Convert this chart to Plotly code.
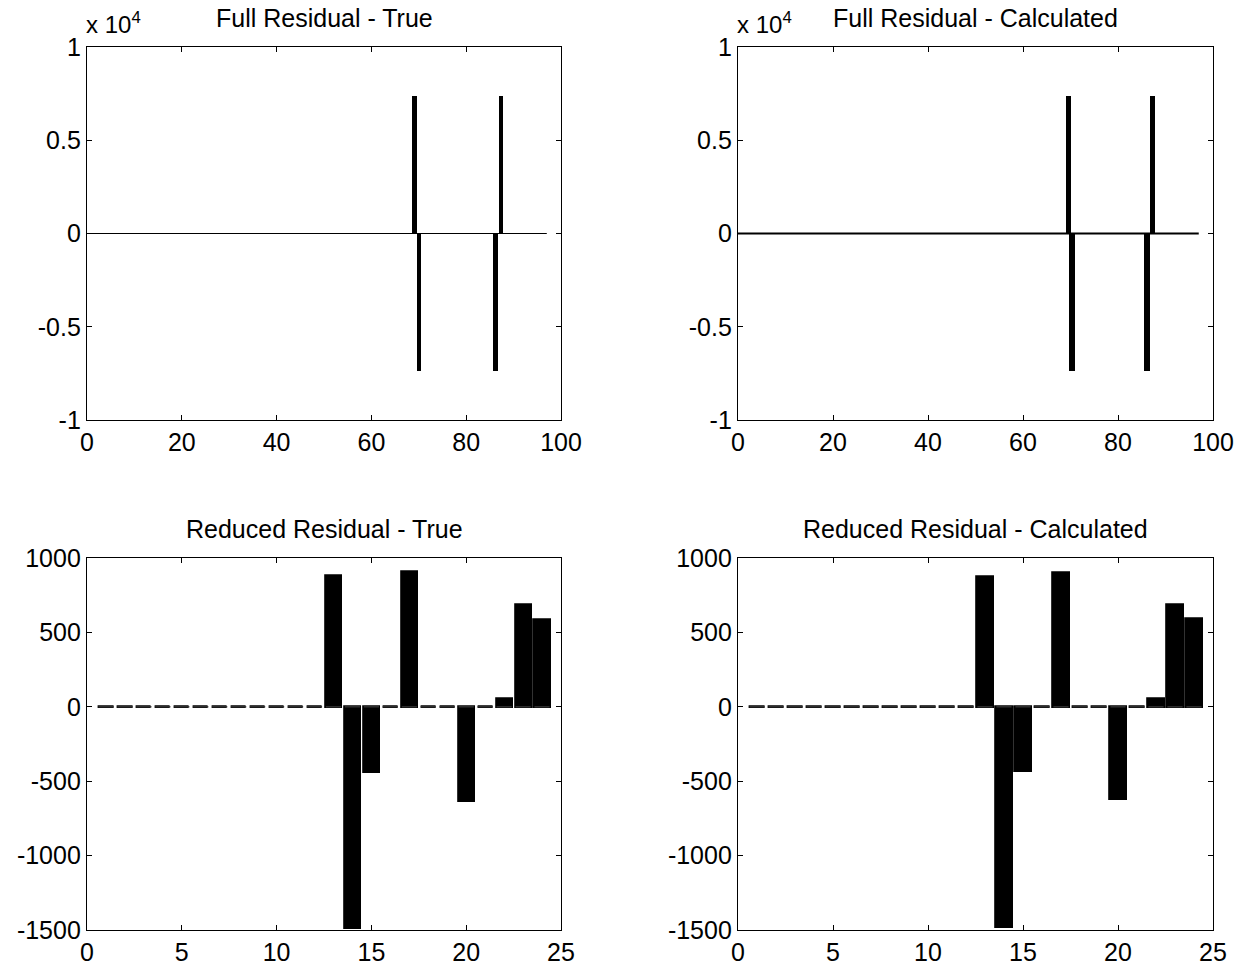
import plotly.graph_objects as go

# ---------------- data ----------------
# Full residual (top row): spike positions and heights
full_true_x = [69.1, 70.0, 86.2, 87.3]
full_true_y = [7350, -7350, -7350, 7350]
full_calc_x = [69.5, 70.3, 86.1, 87.3]
full_calc_y = [7350, -7350, -7350, 7350]
full_range = [0, 97]          # extent of the zero residual line
full_zero = [0, 0]

# Reduced residual (bottom row)
reduced_idx = list(range(1, 25))
reduced_true = [0, 0, 0, 0, 0, 0, 0, 0, 0, 0, 0, 0,
                876, -1485, -438, 0, 905, 0, 0, -632, 0, 54, 681, 585]
reduced_calc = [0, 0, 0, 0, 0, 0, 0, 0, 0, 0, 0, 0,
                872, -1480, -430, 0, 902, 0, 0, -620, 0, 52, 683, 588]

full_xticks = [0, 20, 40, 60, 80, 100]
full_yticks = [-10000, -5000, 0, 5000, 10000]
full_yticktext = ["-1", "-0.5", "0", "0.5", "1"]
red_xticks = [0, 5, 10, 15, 20, 25]
red_yticks = [-1500, -1000, -500, 0, 500, 1000]
red_yticktext = ["-1500", "-1000", "-500", "0", "500", "1000"]

titles = ["Full Residual - True", "Full Residual - Calculated",
          "Reduced Residual - True", "Reduced Residual - Calculated"]

W, H = 1242, 966
FONT = "Liberation Sans, Arial, Helvetica, sans-serif"
FS = 25
BAR_W = 0.8

def px_x(p):
    return p / W

def px_y(p):
    return 1 - p / H

dom_x = [[px_x(87), px_x(561)], [px_x(738), px_x(1213)]]
dom_y_top = [px_y(420), px_y(47)]
dom_y_bot = [px_y(930), px_y(558)]

fig = go.Figure()

# top-left
fig.add_trace(go.Scatter(x=full_range, y=full_zero, mode="lines",
                         line=dict(color="black", width=1.2),
                         xaxis="x", yaxis="y", showlegend=False))
fig.add_trace(go.Bar(x=full_true_x, y=full_true_y, width=0.9,
                     marker=dict(color="black", line=dict(width=0)),
                     xaxis="x", yaxis="y", showlegend=False))
# top-right
fig.add_trace(go.Scatter(x=full_range, y=full_zero, mode="lines",
                         line=dict(color="black", width=2.2),
                         xaxis="x2", yaxis="y2", showlegend=False))
fig.add_trace(go.Bar(x=full_calc_x, y=full_calc_y, width=1.1,
                     marker=dict(color="black", line=dict(width=0)),
                     xaxis="x2", yaxis="y2", showlegend=False))

# bottom: dashed baseline made of the bar bottom edges
def base_segments(idx):
    xs, ys = [], []
    for i in idx:
        xs += [i - BAR_W / 2, i + BAR_W / 2, None]
        ys += [0, 0, None]
    return xs, ys

for vals, xa, ya in [(reduced_true, "x3", "y3"), (reduced_calc, "x4", "y4")]:
    sx, sy = base_segments(reduced_idx)
    fig.add_trace(go.Scatter(x=sx, y=sy, mode="lines",
                             line=dict(color="#333333", width=1.4),
                             xaxis=xa, yaxis=ya, showlegend=False))
    fig.add_trace(go.Bar(x=reduced_idx, y=vals, width=BAR_W,
                         marker=dict(color="black", line=dict(color="black", width=2.8)),
                         xaxis=xa, yaxis=ya, showlegend=False))

axis_common = dict(showgrid=False, zeroline=False, showline=True, linecolor="black",
                   linewidth=1.3, mirror="ticks", ticks="inside", ticklen=5,
                   tickcolor="black", tickwidth=1.2,
                   tickfont=dict(family=FONT, size=FS, color="black"))

layout = dict(
    width=W, height=H, margin=dict(l=0, r=0, t=0, b=0),
    paper_bgcolor="white", plot_bgcolor="white", bargap=0, barmode="overlay",
    font=dict(family=FONT, size=FS, color="black"),
)
layout["xaxis"] = dict(axis_common, domain=dom_x[0], anchor="y", range=[0, 100],
                       tickvals=full_xticks, automargin=False)
layout["yaxis"] = dict(axis_common, domain=dom_y_top, anchor="x", range=[-10000, 10000],
                       tickvals=full_yticks, ticktext=full_yticktext, automargin=False)
layout["xaxis2"] = dict(axis_common, domain=dom_x[1], anchor="y2", range=[0, 100],
                        tickvals=full_xticks, automargin=False)
layout["yaxis2"] = dict(axis_common, domain=dom_y_top, anchor="x2", range=[-10000, 10000],
                        tickvals=full_yticks, ticktext=full_yticktext, automargin=False)
layout["xaxis3"] = dict(axis_common, domain=dom_x[0], anchor="y3", range=[0, 25],
                        tickvals=red_xticks, automargin=False)
layout["yaxis3"] = dict(axis_common, domain=dom_y_bot, anchor="x3", range=[-1500, 1000],
                        tickvals=red_yticks, ticktext=red_yticktext, automargin=False)
layout["xaxis4"] = dict(axis_common, domain=dom_x[1], anchor="y4", range=[0, 25],
                        tickvals=red_xticks, automargin=False)
layout["yaxis4"] = dict(axis_common, domain=dom_y_bot, anchor="x4", range=[-1500, 1000],
                        tickvals=red_yticks, ticktext=red_yticktext, automargin=False)

annotations = []
title_pos = [((dom_x[0][0] + dom_x[0][1]) / 2, px_y(18)),
             ((dom_x[1][0] + dom_x[1][1]) / 2, px_y(18)),
             ((dom_x[0][0] + dom_x[0][1]) / 2, px_y(529)),
             ((dom_x[1][0] + dom_x[1][1]) / 2, px_y(529))]
for t, (tx, ty) in zip(titles, title_pos):
    annotations.append(dict(text=t, x=tx, y=ty, xref="paper", yref="paper",
                            xanchor="center", yanchor="middle", showarrow=False,
                            font=dict(family=FONT, size=FS, color="black")))
for xl in [px_x(84), px_x(735)]:
    annotations.append(dict(text="x 10<sup>4</sup>", x=xl, y=px_y(40), xref="paper",
                            yref="paper", xanchor="left", yanchor="bottom",
                            showarrow=False,
                            font=dict(family=FONT, size=FS - 1, color="black")))
layout["annotations"] = annotations

fig.update_layout(**layout)
fig.write_html("out.html",
               config={"displayModeBar": False},
               post_script="document.body.style.margin='0px';"
                           "document.body.style.overflow='hidden';")
